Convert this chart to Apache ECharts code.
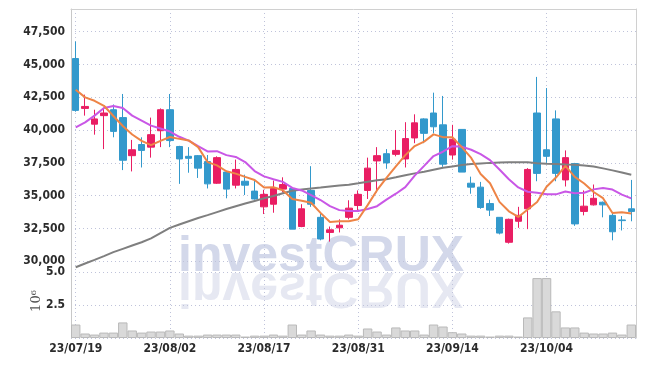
<!DOCTYPE html>
<html><head><meta charset="utf-8">
<script src="https://cdn.jsdelivr.net/npm/echarts@6/dist/echarts.min.js"></script>
<style>html,body{margin:0;padding:0;background:#fff}#c{width:645px;height:366px}</style>
</head><body><div id="c"></div>
<script>
const dates = ['23/07/19','23/07/20','23/07/21','23/07/24','23/07/25','23/07/26','23/07/27','23/07/28','23/07/31',
'23/08/01','23/08/02','23/08/03','23/08/04','23/08/07','23/08/08','23/08/09','23/08/10','23/08/11','23/08/14','23/08/16','23/08/17','23/08/18','23/08/21','23/08/22','23/08/23','23/08/24','23/08/25','23/08/28','23/08/29','23/08/30','23/08/31',
'23/09/01','23/09/04','23/09/05','23/09/06','23/09/07','23/09/08','23/09/11','23/09/12','23/09/13','23/09/14','23/09/15','23/09/18','23/09/19','23/09/20','23/09/21','23/09/22','23/09/25','23/09/26','23/09/27',
'23/10/04','23/10/05','23/10/06','23/10/10','23/10/11','23/10/12','23/10/13','23/10/16','23/10/17','23/10/18'];

const opens = [45450,41650,40450,41100,41550,40950,38050,38900,38700,39950,
41550,38750,38000,38050,37600,35950,36800,35800,36100,35350,
34150,34350,35500,35550,32650,35400,33350,32200,32550,33350,
34250,35400,37650,38200,38150,37800,39400,40850,41300,40400,
38100,40050,35950,35650,34400,33350,31450,33050,34000,41300,
38500,40850,36200,37450,33800,34300,34500,33500,33150,34000];
const closes = [41500,41800,40850,41300,39900,37700,38500,38450,39650,41550,
39200,37800,37850,37100,35900,37900,35500,37000,35800,34750,
35100,35550,35850,32450,34000,34350,31700,32400,32750,34050,
35100,37100,38050,37500,38450,39350,40550,39750,40250,37400,
39300,36800,35650,34100,33900,32150,33200,33500,37000,36700,
38000,36700,37900,32850,34200,34800,34300,32250,33100,33800];
const lows = [41400,41100,39650,38550,39450,36950,36850,37150,37900,38700,
38700,35900,36750,36350,35550,35900,34800,35550,35050,34700,
33600,33700,35250,32450,32600,34150,31600,31500,32200,33200,
33850,34750,35250,37050,38000,37150,39000,39000,39750,37200,
37750,36800,35150,34000,33450,32050,31350,32550,32450,36100,
37500,36100,35700,32700,33500,34250,33350,31600,32350,33050];
const highs = [46750,42700,41550,41700,41950,42750,39250,39450,40950,41650,
42750,38800,38700,38100,38100,38000,36850,37750,36600,36200,
35450,36150,36400,35600,34350,37250,33650,32650,33200,34650,
35400,37900,38700,38550,40000,40600,41200,40900,42850,42600,
40400,40050,36450,36050,34700,33350,33250,34150,37100,44050,
43200,41500,38450,37500,35400,35850,34550,33700,33450,36200];

// volume in millions of shares
const volumes = [1.02,0.34,0.26,0.41,0.41,1.18,0.57,0.41,0.49,0.49,
0.57,0.34,0.18,0.18,0.26,0.26,0.26,0.26,0.11,0.18,
0.18,0.26,0.18,1.02,0.26,0.57,0.26,0.18,0.18,0.26,
0.18,0.72,0.49,0.26,0.80,0.57,0.57,0.26,1.02,0.87,
0.44,0.34,0.18,0.18,0.11,0.18,0.18,0.11,1.56,4.54,
4.54,2.02,0.80,0.80,0.41,0.34,0.34,0.41,0.26,1.02];

const maShort = [43070,42490,42230,41850,41070,40310,39660,39180,38850,39180,
39470,39330,39210,38700,37560,37310,36860,36680,36430,36190,
35630,35640,35420,34750,34610,34460,33690,32990,33050,33050,
33200,34280,35420,36360,37240,38090,38780,39120,39670,39460,
39450,38700,37880,36650,35950,34530,33810,33380,33950,34520,
35680,36380,37270,36430,35930,35280,34810,33680,33730,33650];
const maMid = [40210,40590,41100,41680,41830,41680,41100,40720,40340,40120,
39890,39490,39190,38770,38370,38390,38090,37950,37560,36880,
36470,36250,36050,35590,35400,35050,34670,34200,33900,33830,
33830,33980,34200,34700,35150,35650,36530,37270,38020,38350,
38770,38740,38500,38160,37710,36990,36250,35630,35300,35230,
35110,35100,35320,35190,35220,35480,35590,35470,35080,34790];
const maLong = [29550,29830,30110,30400,30700,30950,31200,31450,31750,32150,
32550,32800,33050,33300,33520,33750,33980,34200,34400,34600,
34800,34980,35180,35380,35470,35550,35620,35700,35780,35840,
35950,36070,36180,36260,36400,36550,36700,36830,36980,37130,
37230,37330,37420,37460,37500,37520,37540,37550,37550,37480,
37440,37420,37380,37350,37300,37220,37080,36930,36770,36600];

const priceTicks = [30000,32500,35000,37500,40000,42500,45000,47500];

const LF = "'DejaVu Sans Condensed','Liberation Sans Narrow',sans-serif";
const gridLine = {color:'#bfc3da', type:[1,3], width:1};
const labelStyle = {fontFamily: LF, fontSize: 12, fontWeight: 'bold', color: '#2b2b2b'};

const candles = dates.map((d, i) => [opens[i], closes[i], lows[i], highs[i]]);

const chart = echarts.init(document.getElementById('c'), null, {renderer:'canvas'});
chart.setOption({
  animation: false,
  backgroundColor: '#fff',
  graphic: [
    {type:'text', x:178, y:272, z:0, silent:true,
     style:{text:'investCRUX', x:0, y:10, verticalAlign:'bottom', font:"bold 50px 'Liberation Sans', Arial, sans-serif", fill:'#d3d8ea'}},
    {type:'text', x:178, y:272, scaleY:-1, z:0, silent:true,
     style:{text:'investCRUX', x:0, y:10, verticalAlign:'bottom', font:"bold 50px 'Liberation Sans', Arial, sans-serif", fill:'#e6e8f2'}},
    {type:'text', x:37, y:301, rotation:Math.PI/2, silent:true,
     style:{text:'10\u2076', align:'center', verticalAlign:'middle', font:"13px 'DejaVu Serif', serif", fill:'#555'}}
  ],
  grid: [
    {left:71, right:9, top:9, height:263},
    {left:71, right:9, top:272, height:66}
  ],
  xAxis: [
    {type:'category', gridIndex:0, data:dates, boundaryGap:true, position:'top',
     axisLine:{show:true, onZero:false, lineStyle:{color:'#d0d0d0'}},
     axisTick:{show:false}, axisLabel:{show:false},
     splitLine:{show:true, interval:9, alignWithLabel:true, lineStyle:gridLine}},
    {type:'category', gridIndex:1, data:dates, boundaryGap:true,
     axisLine:{show:false, onZero:false}, axisTick:{show:false},
     axisLabel:Object.assign({interval:9, margin:5}, labelStyle),
     splitLine:{show:true, interval:9, alignWithLabel:true, lineStyle:gridLine}}
  ],
  yAxis: [
    {type:'value', gridIndex:0, min:29185, max:49225, scale:true,
     axisLine:{show:true, onZero:false, lineStyle:{color:'#c8c8c8'}},
     axisTick:{show:false, customValues:priceTicks},
     axisLabel:Object.assign({customValues:priceTicks, margin:6,
        formatter:v => Number(v).toLocaleString('en-US')}, labelStyle),
     splitLine:{show:true, lineStyle:gridLine}},
    {type:'value', gridIndex:1, min:0, max:5, interval:2.5,
     axisLine:{show:true, onZero:false, lineStyle:{color:'#c8c8c8'}},
     axisTick:{show:false},
     axisLabel:Object.assign({margin:6, showMinLabel:false, formatter:v => v.toFixed(1)}, labelStyle),
     splitLine:{show:true, lineStyle:gridLine}},
    {type:'value', gridIndex:0, position:'right', min:0, max:1,
     axisLine:{show:true, onZero:false, lineStyle:{color:'#d0d0d0'}},
     axisTick:{show:false}, axisLabel:{show:false}, splitLine:{show:false}},
    {type:'value', gridIndex:1, position:'right', min:0, max:1,
     axisLine:{show:true, onZero:false, lineStyle:{color:'#d0d0d0'}},
     axisTick:{show:false}, axisLabel:{show:false}, splitLine:{show:false}}
  ],
  series: [
    {type:'candlestick', xAxisIndex:0, yAxisIndex:0, data:candles, barWidth:7,
     itemStyle:{color:'#e91e63', color0:'#3399cc', borderColor:'#e91e63', borderColor0:'#3399cc', borderWidth:1}},
    {type:'line', xAxisIndex:0, yAxisIndex:0, data:maLong, showSymbol:false, symbol:'none', z:3,
     lineStyle:{color:'#7f7f7f', width:2}},
    {type:'line', xAxisIndex:0, yAxisIndex:0, data:maMid, showSymbol:false, symbol:'none', z:3,
     lineStyle:{color:'#c957e6', width:2}},
    {type:'line', xAxisIndex:0, yAxisIndex:0, data:maShort, showSymbol:false, symbol:'none', z:3,
     lineStyle:{color:'#ee8446', width:2}},
    {type:'bar', xAxisIndex:1, yAxisIndex:1, data:volumes, barWidth:'100%', barCategoryGap:'0%',
     itemStyle:{color:'#d9d9d9', borderColor:'#b9b9b9', borderWidth:1}}
  ]
});
</script>
</body></html>
